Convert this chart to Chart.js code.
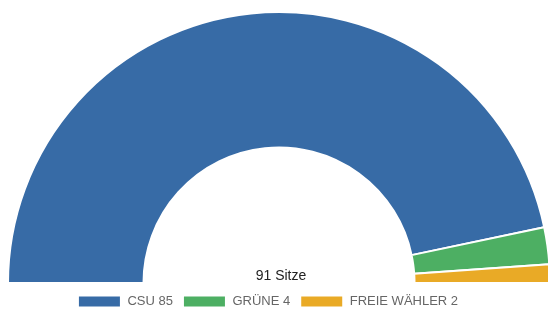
<!DOCTYPE html>
<html>
<head>
<meta charset="utf-8">
<script src="https://cdn.jsdelivr.net/npm/chart.js@4/dist/chart.umd.min.js"></script>
<style>
  body { margin: 0; overflow: hidden; background: #fff; }
  #wrap { position: relative; width: 558px; height: 318px; }
</style>
</head>
<body>
<div id="wrap"><canvas id="seats"></canvas></div>
<script>
const parties = ["CSU", "GRÜNE", "FREIE WÄHLER"];
const seats = [85, 4, 2];
const partyColors = ["rgb(55, 107, 166)", "rgb(77, 175, 99)", "rgb(233, 170, 38)"];
const totalLabel = "91 Sitze";

const seatsctx = document.getElementById("seats");

// centre text under the arc
const centerText = {
    id: "centerText",
    afterDatasetsDraw(chart) {
        const arc = chart.getDatasetMeta(0).data[0];
        const ctx = chart.ctx;
        ctx.save();
        ctx.font = "14px 'Liberation Sans', Arial, sans-serif";
        ctx.fillStyle = "#222";
        ctx.textAlign = "center";
        ctx.textBaseline = "bottom";
        ctx.fillText(totalLabel, arc.x + 2, arc.y);
        ctx.restore();
    },
};

// legend sits a little left of the arc centre in the original
const legendShift = {
    id: "legendShift",
    afterLayout(chart) {
        chart.legend.left -= 11;
        chart.legend.right -= 11;
    },
};

const dataSeats = {
    labels: parties.map((p, i) => p + " " + seats[i]),
    datasets: [
        {
            data: seats,
            backgroundColor: partyColors,
            borderColor: "#fff",
            borderWidth: 2,
        },
    ],
};

const configSeats = {
    type: "doughnut",
    data: dataSeats,
    options: {
        responsive: true,
        maintainAspectRatio: false,
        animation: false,
        rotation: -90,
        circumference: 180,
        cutout: "50%",
        layout: {
            padding: { top: 10, left: 7, right: 7, bottom: 0 },
        },
        plugins: {
            legend: {
                position: "bottom",
                labels: {
                    boxWidth: 43,
                    boxHeight: 12,
                    color: "#666",
                    font: { family: "'Liberation Sans', Arial, sans-serif", size: 13 },
                },
            },
            tooltip: { enabled: false },
        },
    },
    plugins: [centerText, legendShift],
};

new Chart(seatsctx, configSeats);
</script>
</body>
</html>
